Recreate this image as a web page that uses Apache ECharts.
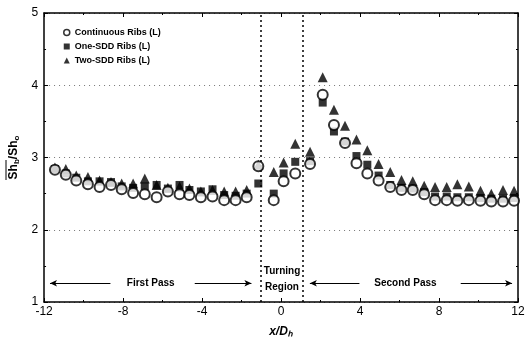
<!DOCTYPE html>
<html><head><meta charset="utf-8">
<script src="https://cdn.jsdelivr.net/npm/echarts@6/dist/echarts.min.js"></script>
<style>html,body{margin:0;padding:0;background:#fff}#c{width:530px;height:345px}</style>
</head><body><div id="c"></div>
<script>
const xPos = [-11.45,-10.9,-10.37,-9.78,-9.19,-8.61,-8.07,-7.49,-6.9,-6.3,-5.73,-5.14,-4.64,-4.06,-3.47,-2.88,-2.3,-1.74,
  -1.15,-0.37,0.13,0.72,
  1.47,2.11,2.68,3.24,3.82,4.37,4.94,5.53,6.1,6.67,7.25,7.8,8.39,8.93,9.51,10.1,10.65,11.24,11.8];
const continuous = [2.83,2.76,2.68,2.63,2.59,2.62,2.56,2.51,2.49,2.45,2.53,2.49,2.48,2.45,2.46,2.41,2.41,2.45,
  2.88,2.41,2.67,2.78,
  2.91,3.87,3.45,3.20,2.92,2.78,2.68,2.59,2.55,2.55,2.49,2.41,2.41,2.40,2.41,2.40,2.39,2.39,2.40];
const oneSDD = [2.84,2.78,2.72,2.67,2.67,2.66,2.60,2.58,2.60,2.62,2.57,2.62,2.55,2.53,2.56,2.48,2.47,2.50,
  2.64,2.50,2.78,2.94,
  2.95,3.76,3.36,3.22,3.02,2.90,2.75,2.62,2.58,2.57,2.52,2.46,2.46,2.45,2.45,2.44,2.43,2.43,2.44];
const twoSDD = [2.86,2.84,2.75,2.73,2.68,2.66,2.64,2.64,2.71,2.62,2.58,2.60,2.57,2.53,2.55,2.53,2.53,2.55,
  2.90,2.80,2.93,3.19,
  3.08,4.11,3.66,3.44,3.25,3.10,2.91,2.80,2.69,2.67,2.61,2.59,2.59,2.63,2.60,2.54,2.50,2.55,2.54];
const seriesNames = ['Continuous Ribs (L)','One-SDD Ribs (L)','Two-SDD Ribs (L)'];
const xTicks = [-12,-8,-4,0,4,8,12];
const yTicks = [1,2,3,4,5];
const regionBounds = [-1.05, 1.1];
const arrows = [[-8.64,-11.7],[-4.37,-1.5],[3.97,1.46],[9.1,11.7]];
const arrowY = 1.26;
const regionLabels = [{t:'First Pass',x:-6.6,y:1.26},{t:'Second Pass',x:6.3,y:1.26},{t:'Turning',x:0.05,y:1.42},{t:'Region',x:0.05,y:1.21}];

const chart = echarts.init(document.getElementById('c'));
const pts = arr => xPos.map((x,i)=>[x,arr[i]]);
const axisCommon = {
  type:'value', axisLine:{show:true,onZero:false,lineStyle:{color:'#000',width:1.5}},
  axisTick:{show:true,inside:true,length:4,lineStyle:{color:'#000'}},
  minorTick:{show:true,splitNumber:2,length:2,lineStyle:{color:'#000'}},
  splitLine:{show:false}
};
chart.setOption({
  animation:false,
  grid:{left:40,right:12,top:13,bottom:43},
  legend:{
    orient:'vertical', left:58, top:23, itemGap:5, itemWidth:6, itemHeight:6,
    textStyle:{fontFamily:'Liberation Sans',fontWeight:'bold',fontSize:9,color:'#000'},
    data:[{name:seriesNames[0],icon:'circle',itemStyle:{color:'#fff',borderColor:'#000',borderWidth:1.5}},
          {name:seriesNames[1],icon:'rect'},{name:seriesNames[2],icon:'triangle'}]
  },
  xAxis:[Object.assign({},axisCommon,{min:-12,max:12,interval:4,position:'bottom',
      axisLabel:{color:'#000',fontFamily:'Liberation Sans',fontSize:12,margin:4,formatter:v=>xTicks.includes(v)?String(v):''},
      name:'x/Dₕ',nameLocation:'middle',nameGap:24,
      nameTextStyle:{fontFamily:'Liberation Sans',fontStyle:'italic',fontWeight:'bold',fontSize:12,color:'#000'}}),
    Object.assign({},axisCommon,{min:-12,max:12,interval:4,position:'top',axisLabel:{show:false}})],
  yAxis:[Object.assign({},axisCommon,{min:1,max:5,interval:1,position:'left',
      axisLabel:{color:'#000',fontFamily:'Liberation Sans',fontSize:12,margin:6,formatter:v=>yTicks.includes(v)?String(v):''},
      splitLine:{show:true,lineStyle:{color:'#777',type:[1,4],width:1}},
      name:'{a|Sh}{s|b}{a|/Sh}{s|o}',nameLocation:'middle',nameGap:20,nameRotate:90,
      nameTextStyle:{rich:{a:{fontFamily:'Liberation Sans',fontWeight:'bold',fontSize:12,color:'#000'},
                           s:{fontFamily:'Liberation Sans',fontWeight:'bold',fontSize:8,color:'#000',padding:[5,0,0,0]}}}}),
    Object.assign({},axisCommon,{min:1,max:5,interval:1,position:'right',axisLabel:{show:false}})],
  series:[
    {name:seriesNames[2],type:'scatter',data:pts(twoSDD),symbol:'triangle',symbolSize:10,itemStyle:{color:'#000'},z:3},
    {name:seriesNames[1],type:'scatter',data:pts(oneSDD),symbol:'rect',symbolSize:8,itemStyle:{color:'#000'},z:4},
    {name:seriesNames[0],type:'scatter',data:pts(continuous),symbol:'circle',symbolSize:10,
      itemStyle:{color:'#fff',borderColor:'#000',borderWidth:2},z:5},
    {name:'annot',type:'scatter',data:[],silent:true,
      markLine:{silent:true,animation:false,label:{show:false},
        data:[
          ...regionBounds.map(b=>[{coord:[b,1],symbol:'none',lineStyle:{type:[2,3],width:1.5,color:'#000'}},{coord:[b,5],symbol:'none'}]),
          ...arrows.map(a=>[{coord:[a[0],arrowY],symbol:'none',lineStyle:{type:'solid',width:1,color:'#000'}},{coord:[a[1],arrowY],symbol:'arrow',symbolSize:[5,7]}])
        ]}}
  ]
});
chart.setOption({graphic:regionLabels.map(l=>{
  const p = chart.convertToPixel({xAxisIndex:0,yAxisIndex:0},[l.x,l.y]);
  return {type:'text',x:p[0],y:p[1],style:{text:l.t,align:'center',verticalAlign:'middle',
    font:'bold 10px "Liberation Sans"',fill:'#000',backgroundColor:'#fff'},z:10};
}).concat([{type:'line',shape:{x1:6,y1:160,x2:6,y2:180},style:{stroke:'#000',lineWidth:1},z:10}])});
</script></body></html>
